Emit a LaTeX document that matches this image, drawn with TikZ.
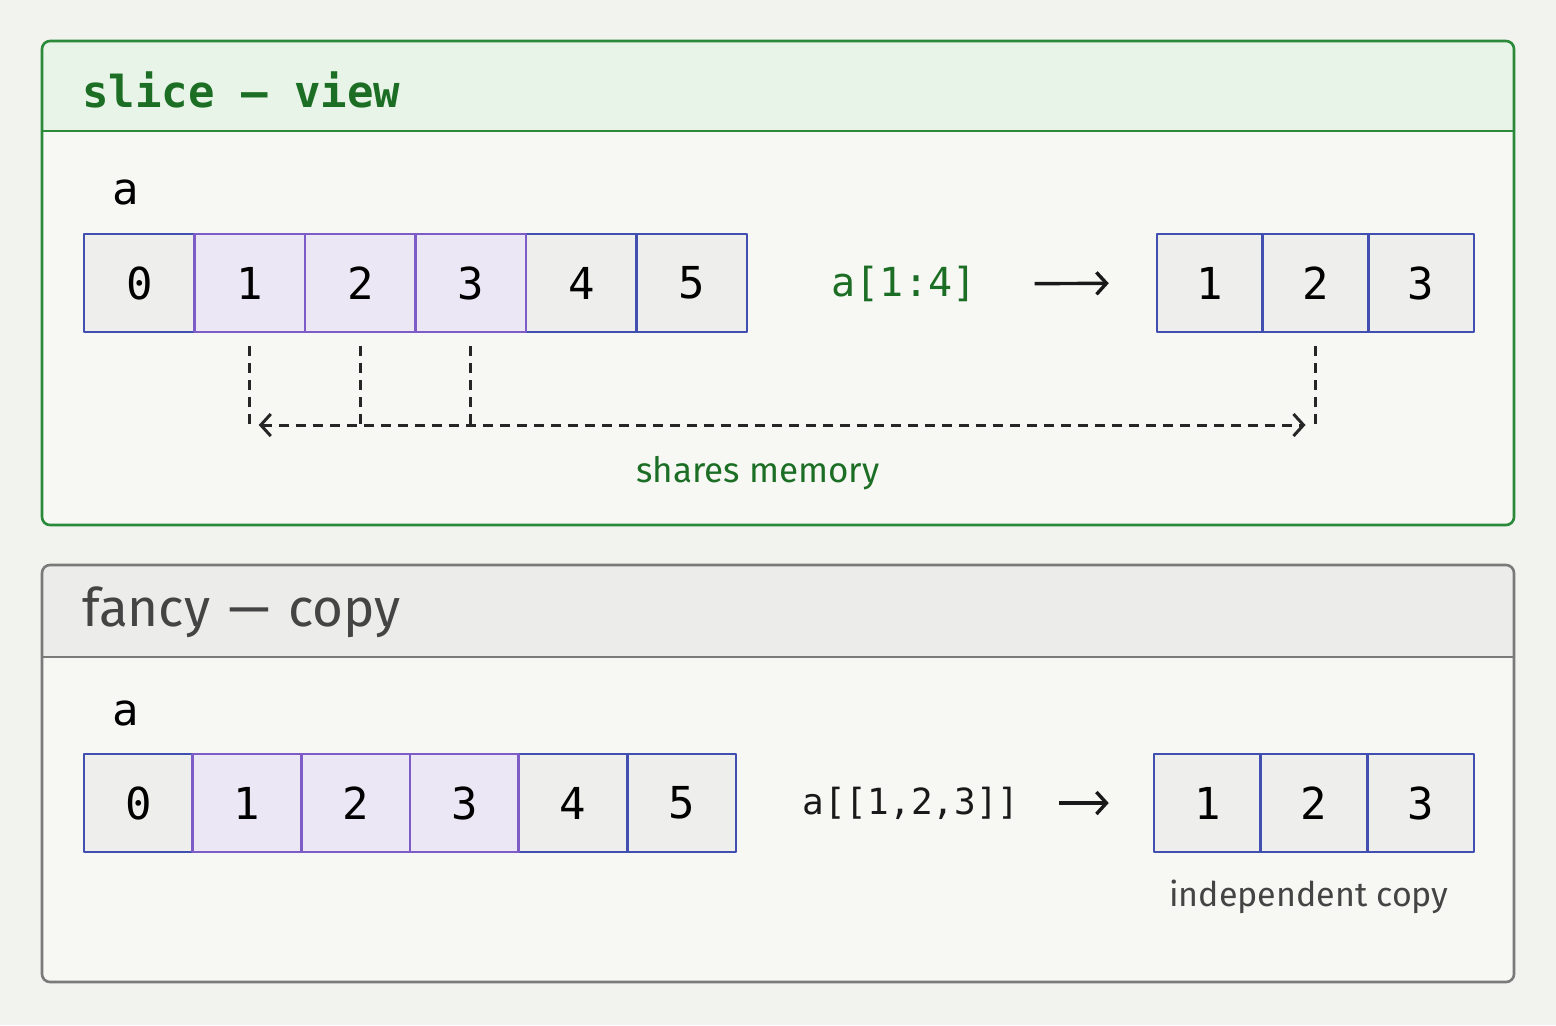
\documentclass[tikz,border=0pt]{standalone}
\usepackage{fontspec}
\setmainfont{Fira Sans}
\setmonofont{DejaVu Sans Mono}
\usetikzlibrary{arrows.meta,positioning}

\definecolor{pagebg}{HTML}{F2F2EF}
\definecolor{panelbg}{HTML}{F7F7F4}
\definecolor{viewgreen}{HTML}{2A8A3A}
\definecolor{viewtext}{HTML}{1B6E24}
\definecolor{viewhead}{HTML}{E7F4E7}
\definecolor{copygray}{HTML}{7A7A7A}
\definecolor{copyhead}{HTML}{ECECEA}
\definecolor{copytext}{HTML}{444444}
\definecolor{cellblue}{HTML}{4150B0}
\definecolor{cellgray}{HTML}{EEEEEC}
\definecolor{cellpurple}{HTML}{7D5CC8}
\definecolor{purplefill}{HTML}{EBE7F5}

\tikzset{
    cell/.style={draw=cellblue, fill=cellgray, line width=1.3pt, minimum height=49pt,
        inner sep=0pt, font=\ttfamily\fontsize{22}{26}\selectfont},
    hicell/.style={cell, draw=cellpurple, fill=purplefill},
    share/.style={draw=black!85, line width=1.5pt, dash pattern=on 5pt off 3.5pt},
    pointer/.style={draw=black!90, line width=1.7pt, -{Straight Barb[length=5pt, width=11pt]}},
    heading/.style={anchor=west, inner sep=0pt},
    label/.style={inner sep=0pt, font=\ttfamily\fontsize{22}{26}\selectfont}
}

\begin{document}
\begin{tikzpicture}[x=0.5pt, y=-0.5pt, line join=round]

    % page
    \fill[pagebg] (0,0) rectangle (1556,1025);
    \useasboundingbox (0,0) rectangle (1556,1025);

    % Panel (slice -- view)
    \fill[panelbg, rounded corners=4pt] (42,41) rectangle (1514,525);
    \begin{scope}
        \clip[rounded corners=4pt] (42,41) rectangle (1514,525);
        \fill[viewhead] (42,41) rectangle (1514,131);
    \end{scope}
    \draw[viewgreen, line width=1.3pt] (42,131) -- (1514,131);
    \draw[viewgreen, line width=1.3pt, rounded corners=4pt] (42,41) rectangle (1514,525);
    \node[heading, text=viewtext, font=\ttfamily\bfseries\fontsize{22}{26}\selectfont] (viewtitle) at (82,90) {slice — view};

    % Panel (fancy -- copy)
    \fill[panelbg, rounded corners=4pt] (42,565) rectangle (1514,982);
    \begin{scope}
        \clip[rounded corners=4pt] (42,565) rectangle (1514,982);
        \fill[copyhead] (42,565) rectangle (1514,657);
    \end{scope}
    \draw[copygray, line width=1.3pt] (42,657) -- (1514,657);
    \draw[copygray, line width=1.3pt, rounded corners=4pt] (42,565) rectangle (1514,982);
    \node[heading, text=copytext, font=\fontsize{26.5}{32}\selectfont] (copytitle) at (82,612) {fancy\hspace{2pt} —\hspace{2pt} copy};

    % array a (view)
    \node[label] (viewname) at (126,192) {a};
    \foreach \i/\st in {0/cell, 4/cell, 5/cell, 1/hicell, 2/hicell, 3/hicell} {
        \node[\st, minimum width=55.25pt] (va\i) at ({84+110.5*(\i+0.5)},283) {\i};
    }
    % slice result
    \foreach \i in {1,2,3} {
        \node[cell, minimum width=52.8pt] (vr\i) at ({1157+105.67*(\i-0.5)},283) {\i};
    }
    \node[label, text=viewtext, font=\ttfamily\fontsize{20}{24}\selectfont] (slicecode) at (904,284) {a[1:4]};
    \draw[pointer, shorten <=29pt, shorten >=23.5pt] (slicecode.east) -- (vr1.west);

    % shared memory links
    \coordinate (lane) at (0,425);
    \foreach \c in {va1, va2, va3, vr2} {
        \draw[share] ([yshift=-6.5pt]\c.south) -- (\c.south |- lane);
    }
    \draw[share, {Straight Barb[length=5pt, width=11pt]}-{Straight Barb[length=5pt, width=11pt]},
        shorten <=4.5pt, shorten >=5pt] (va1.south |- lane) -- (vr2.south |- lane);
    \node[text=viewtext, font=\fontsize{17.5}{20}\selectfont] (sharetxt) at (758,473) {shares memory};

    % array a (copy)
    \node[label] (copyname) at (126,713) {a};
    \foreach \i/\st in {0/cell, 4/cell, 5/cell, 1/hicell, 2/hicell, 3/hicell} {
        \node[\st, minimum width=54.33pt] (fa\i) at ({84+108.67*(\i+0.5)},803) {\i};
    }
    % fancy result
    \foreach \i in {1,2,3} {
        \node[cell, minimum width=53.33pt] (fr\i) at ({1154+106.67*(\i-0.5)},803) {\i};
    }
    \node[label, text=black!90, font=\ttfamily\fontsize{18}{22}\selectfont] (fancycode) at (911,803) {a[[1,2,3]]};
    \draw[pointer, shorten <=19.5pt, shorten >=22pt] (fancycode.east) -- (fr1.west);
    \node[text=copytext, font=\fontsize{17}{20}\selectfont] (copytxt) at (1309,897) {independent copy};

\end{tikzpicture}
\end{document}
